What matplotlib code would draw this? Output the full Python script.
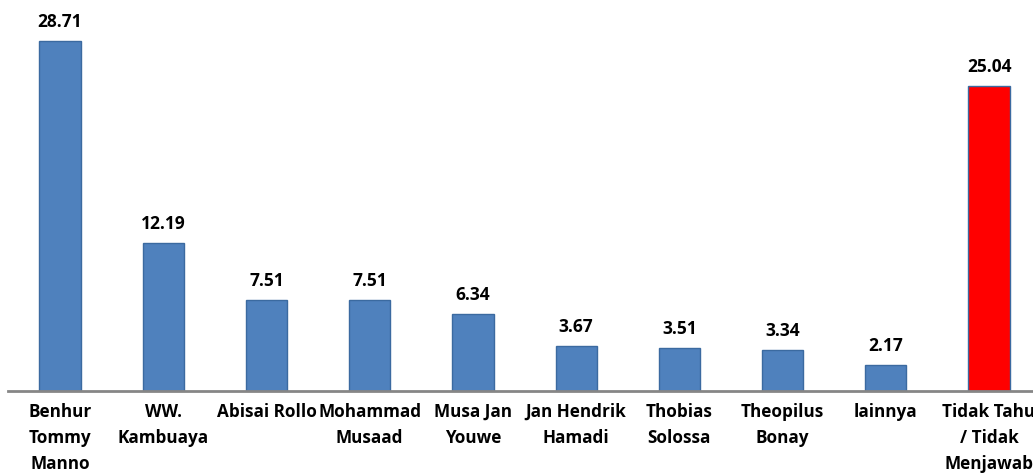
import numpy as np
import matplotlib.pyplot as plt

names = ["Benhur\nTommy\nManno", "WW.\nKambuaya", "Abisai Rollo", "Mohammad\nMusaad",
         "Musa Jan\nYouwe", "Jan Hendrik\nHamadi", "Thobias\nSolossa", "Theopilus\nBonay",
         "lainnya", "Tidak Tahu\n/ Tidak\nMenjawab"]
persen = [28.71, 12.19, 7.51, 7.51, 6.34, 3.67, 3.51, 3.34, 2.17, 25.04]
warna = ["#4f81bd"] * 9 + ["#ff0000"]

plt.rcParams['font.family'] = ['Open Sans', 'DejaVu Sans']

fig = plt.figure(figsize=(10.33, 4.77), dpi=100)
ax = fig.add_axes([0.0082, 0.178, 0.9992, 0.8177])

x = np.arange(len(persen))
ax.bar(x, persen, width=0.4, color=warna, edgecolor="#3b6aa0", linewidth=1)
for xi, v in zip(x, persen):
    ax.text(xi, v + 0.9, "%.2f" % v, ha="center", va="bottom",
            fontsize=12.5, fontweight="bold")

ax.set_xlim(-0.5, len(persen) - 0.5)
ax.set_ylim(0, 32)
ax.set_xticks(x)
ax.set_xticklabels(names, fontsize=12.3, fontweight="bold", linespacing=1.55)
ax.tick_params(axis="x", length=0, pad=8)
ax.set_yticks([])
for s in ["top", "right", "left"]:
    ax.spines[s].set_visible(False)
ax.spines["bottom"].set_color("#868686")
ax.spines["bottom"].set_linewidth(2)

fig.savefig("out.png", dpi=100)
